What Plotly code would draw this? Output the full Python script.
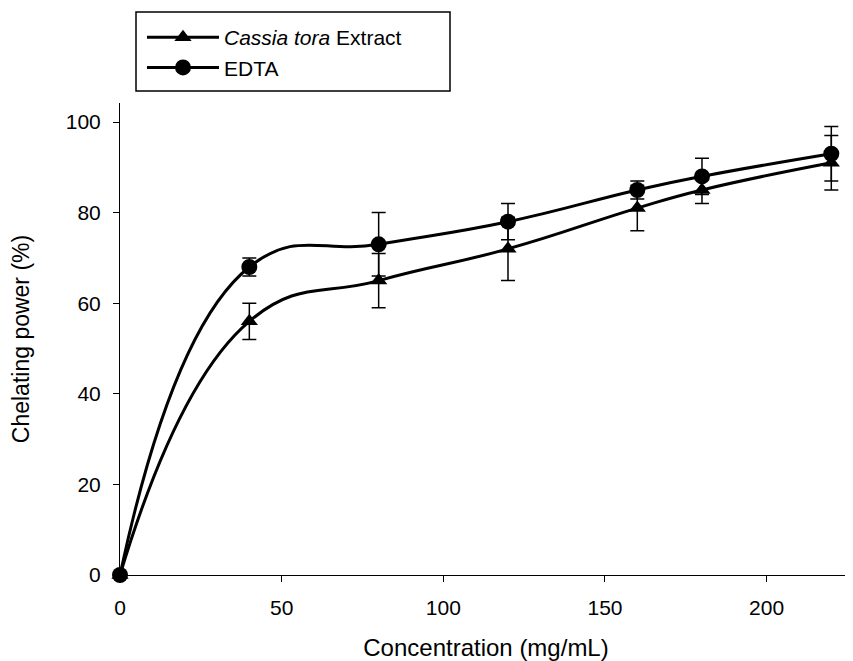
import plotly.graph_objects as go

# ---- data ----
conc = [0, 40, 80, 120, 160, 180, 220]
cassia = [0, 56, 65, 72, 81, 85, 91]
cassia_err = [0, 4, 6, 7, 5, 3, 6]
edta = [0, 68, 73, 78, 85, 88, 93]
edta_err = [0, 2, 7, 4, 2, 4, 6]
x_ticks = [0, 50, 100, 150, 200]
y_ticks = [0, 20, 40, 60, 80, 100]

# The page body adds an 8px margin, so the figure is sized to fill the
# 853x661 window from (8, 8).
OFF = 8
W, H = 853 - OFF, 661 - OFF
# plot area in window pixels: x 120..852, y 103..575
L, R, T, B = 120 - OFF, 1, 103 - OFF, 661 - 575
PW, PH = W - L - R, H - T - B

def px(x):  # window pixel -> paper
    return (x - 120) / PW

def py(y):
    return (575 - y) / PH

FONT = "Arial, Liberation Sans, Helvetica, sans-serif"

fig = go.Figure()
fig.add_trace(go.Scatter(
    x=conc, y=cassia, name="<i>Cassia tora</i> Extract",
    mode="lines+markers",
    line=dict(color="black", width=3, shape="spline", smoothing=1.3),
    marker=dict(symbol="triangle-up", size=15, color="black"),
    error_y=dict(type="data", array=cassia_err, color="black", thickness=1.5, width=7),
    cliponaxis=False,
))
fig.add_trace(go.Scatter(
    x=conc, y=edta, name="EDTA",
    mode="lines+markers",
    line=dict(color="black", width=3, shape="spline", smoothing=1.3),
    marker=dict(symbol="circle", size=16, color="black"),
    error_y=dict(type="data", array=edta_err, color="black", thickness=1.5, width=7),
    cliponaxis=False,
))

shapes = [
    dict(type="rect", xref="paper", yref="paper",
         x0=px(136), x1=px(450), y0=py(91), y1=py(12),
         line=dict(color="black", width=1.5), fillcolor="rgba(0,0,0,0)"),
]

fig.update_layout(
    width=W, height=H,
    margin=dict(l=L, r=R, t=T, b=B, autoexpand=False),
    paper_bgcolor="white", plot_bgcolor="white",
    font=dict(family=FONT, size=21, color="black"),
    showlegend=True,
    legend=dict(x=px(142), y=py(17), xanchor="left", yanchor="top",
                bgcolor="rgba(0,0,0,0)", borderwidth=0,
                font=dict(family=FONT, size=21, color="black"),
                itemwidth=72, tracegroupgap=0),
    shapes=shapes,
    xaxis=dict(range=[0, 226.4], tickvals=x_ticks, ticks="outside", ticklen=6,
               tickwidth=1, tickcolor="black", showline=True, linecolor="black",
               linewidth=1, showgrid=False, zeroline=False,
               tickfont=dict(size=21), ticklabelstandoff=8,
               title=dict(text="Concentration (mg/mL)", font=dict(size=24), standoff=22)),
    yaxis=dict(range=[0, 104.2], tickvals=y_ticks, ticks="outside", ticklen=6,
               tickwidth=1, tickcolor="black", showline=True, linecolor="black",
               linewidth=1, showgrid=False, zeroline=False,
               tickfont=dict(size=21), ticklabelstandoff=8,
               title=dict(text="Chelating power (%)", font=dict(size=23), standoff=29)),
)

fig.write_html("out.html")
